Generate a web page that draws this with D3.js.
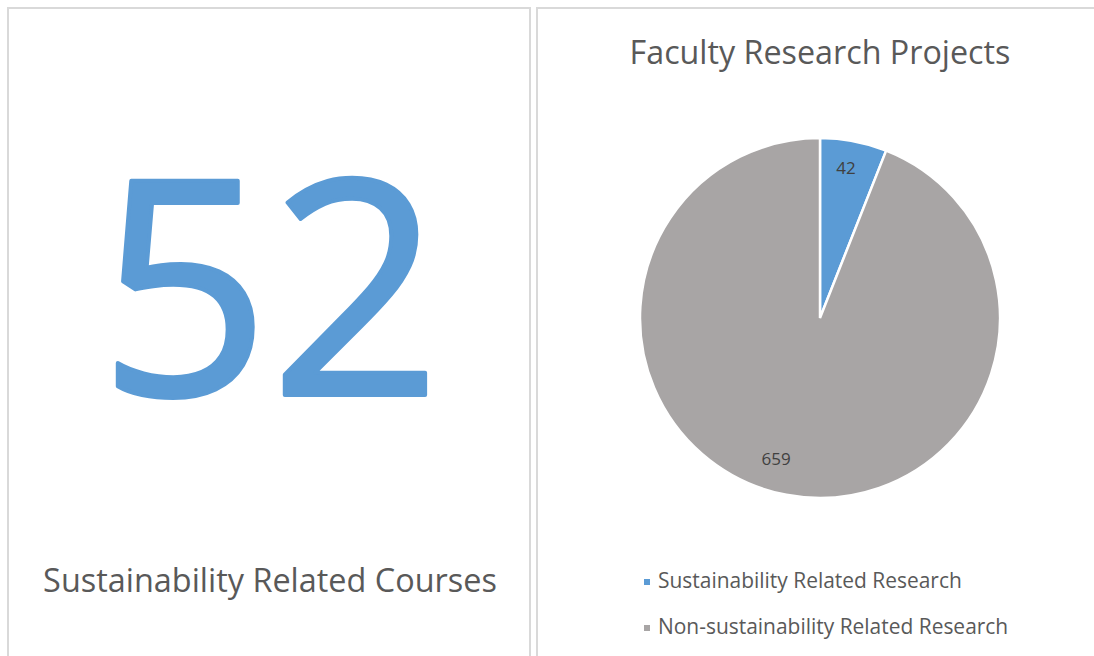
<!DOCTYPE html>
<html>
<head>
<meta charset="utf-8">
<script src="https://cdn.jsdelivr.net/npm/d3@7"></script>
<style>
  body { margin: 0; background: #fff; }
  svg { display: block; font-family: "Open Sans", "Noto Sans", sans-serif; }
</style>
</head>
<body>
<svg id="chart" width="1094" height="656"></svg>
<script>
// data
const courseCount = 52
const courseLabel = 'Sustainability Related Courses'
const pieTitle = 'Faculty Research Projects'
const categories = ['Sustainability Related Research', 'Non-sustainability Related Research']
const values = [42, 659]
const colors = ['#5b9bd5', '#a8a5a5']

const svg = d3.select('#chart')

// fit a text element to a target width by scaling its font size
function fitWidth(sel, target) {
    let size = parseFloat(sel.attr('font-size'))
    let w = sel.node().getComputedTextLength()
    sel.attr('font-size', size * target / w)
}

// panel frames
svg.append('rect')
    .attr('x', 8).attr('y', 8).attr('width', 522).attr('height', 700)
    .attr('fill', 'none').attr('stroke', '#d9d9d9').attr('stroke-width', 2)
svg.append('rect')
    .attr('x', 537).attr('y', 8).attr('width', 600).attr('height', 700)
    .attr('fill', 'none').attr('stroke', '#d9d9d9').attr('stroke-width', 2)

// left panel: big number (light stroke for the heavier Calibri look)
svg.append('text')
    .attr('x', 270).attr('y', 395)
    .attr('text-anchor', 'middle')
    .attr('font-size', 300)
    .attr('fill', colors[0])
    .attr('stroke', colors[0])
    .attr('stroke-width', 4)
    .attr('stroke-linejoin', 'round')
    .text(courseCount)

let cl = svg.append('text')
    .attr('x', 270).attr('y', 592)
    .attr('text-anchor', 'middle')
    .attr('font-size', 28)
    .attr('fill', '#595959')
    .text(courseLabel)
fitWidth(cl, 454)

// right panel: pie
let tt = svg.append('text')
    .attr('x', 820).attr('y', 64)
    .attr('text-anchor', 'middle')
    .attr('font-size', 28)
    .attr('fill', '#595959')
    .text(pieTitle)
fitWidth(tt, 381)

const cx = 820, cy = 318, r = 180
const pie = d3.pie().sort(null).value(d => d)
const arc = d3.arc().innerRadius(0).outerRadius(r)
const labelArc = d3.arc().innerRadius(r * 0.83).outerRadius(r * 0.83)
const slices = pie(values)

const g = svg.append('g').attr('transform', `translate(${cx},${cy})`)
g.selectAll('.slice')
    .data(slices)
    .join('path')
    .attr('class', 'slice')
    .attr('d', arc)
    .attr('fill', (d, i) => colors[i])
    .attr('stroke', '#fff')
    .attr('stroke-width', 2.5)

g.selectAll('.plabel')
    .data(slices)
    .join('text')
    .attr('class', 'plabel')
    .attr('transform', (d, i) => {
        let c = labelArc.centroid(d)
        if (i == 0) c = [c[0] - 2, c[1] - 3]
        if (i == 1) c = [c[0] - 16, c[1] - 6]
        return `translate(${c})`
    })
    .attr('text-anchor', 'middle')
    .attr('dy', '0.35em')
    .attr('font-size', 17)
    .attr('fill', '#404040')
    .text(d => d.data)

// legend
const legend = svg.append('g')
const ly = d3.scalePoint().domain(categories).range([582, 628])
legend.selectAll('rect')
    .data(categories)
    .join('rect')
    .attr('x', 644).attr('y', d => ly(d) - 3)
    .attr('width', 6).attr('height', 6)
    .attr('fill', (d, i) => colors[i])
legend.selectAll('text')
    .data(categories)
    .join('text')
    .attr('x', 658).attr('y', d => ly(d) + 6)
    .attr('font-size', 18)
    .attr('fill', '#595959')
    .text(d => d)
fitWidth(legend.select('text'), 304)
legend.selectAll('text').attr('font-size', legend.select('text').attr('font-size'))
</script>
</body>
</html>
